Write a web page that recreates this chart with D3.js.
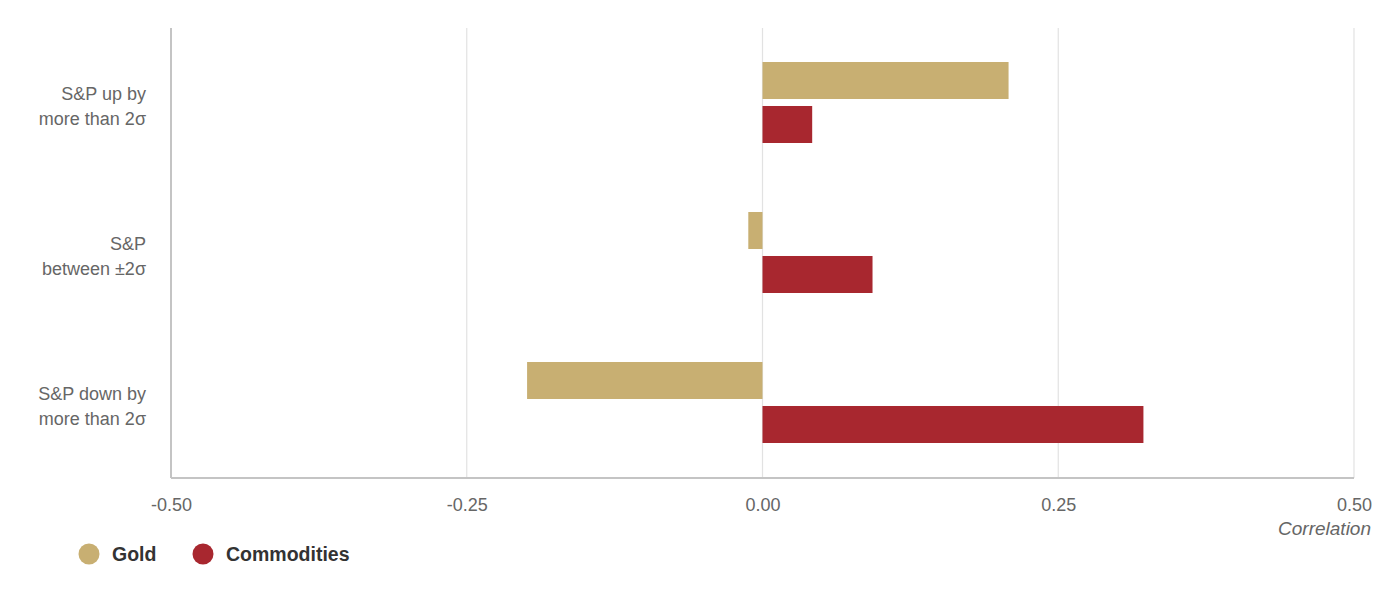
<!DOCTYPE html>
<html><head><meta charset="utf-8">
<script src="https://cdn.jsdelivr.net/npm/d3@7"></script>
<style>body{margin:0;background:#fff;font-family:"Liberation Sans",Arial,sans-serif}</style>
</head><body><svg id="c" width="1400" height="600"></svg>
<script>
const categories = [["S&P up by","more than 2σ"],["S&P","between ±2σ"],["S&P down by","more than 2σ"]];
const seriesNames = ["Gold","Commodities"];
const gold = [0.208, -0.012, -0.199];
const commodities = [0.042, 0.093, 0.322];
const tickValues = [-0.5,-0.25,0,0.25,0.5];
const colors = ["#C8AF72","#A8272F"];

const svg = d3.select("#c");
const L=171, R=1354, T=28, B=478;
const x = d3.scaleLinear().domain([-0.5,0.5]).range([L,R]);
const y0 = d3.scaleBand().domain(d3.range(3)).range([T,B]).padding(0);
const y1 = d3.scaleBand().domain([0,1]).range([-41,40]).paddingInner(0.159).paddingOuter(0);

// gridlines
svg.append("g").selectAll("line").data(tickValues.slice(1)).join("line")
  .attr("x1",d=>x(d)).attr("x2",d=>x(d)).attr("y1",T).attr("y2",B)
  .attr("stroke","#e2e2e2").attr("stroke-width",1.2);
// axis lines
svg.append("line").attr("x1",L).attr("x2",L).attr("y1",T).attr("y2",B).attr("stroke","#c4c4c4").attr("stroke-width",2);
svg.append("line").attr("x1",L).attr("x2",R).attr("y1",B).attr("y2",B).attr("stroke","#c4c4c4").attr("stroke-width",2);

const data = categories.map((c,i)=>({i, vals:[gold[i], commodities[i]]}));
const groups = svg.append("g").selectAll("g").data(data).join("g")
  .attr("transform",d=>`translate(0,${y0(d.i)+y0.bandwidth()/2})`);
groups.selectAll("rect").data(d=>d.vals.map((v,k)=>({v,k}))).join("rect")
  .attr("x",d=>x(Math.min(0,d.v))).attr("width",d=>Math.abs(x(d.v)-x(0)))
  .attr("y",d=>y1(d.k)).attr("height",y1.bandwidth())
  .attr("fill",d=>colors[d.k]);

// category labels
const cl = svg.append("g").selectAll("text").data(categories).join("text")
  .attr("text-anchor","end").attr("fill","#666").attr("font-size",18)
  .attr("transform",(d,i)=>`translate(146,${y0(i)+y0.bandwidth()/2 - 3})`);
cl.selectAll("tspan").data(d=>d).join("tspan").attr("x",0).attr("dy",(d,j)=>j===0?0:24.5).text(d=>d);

// x axis
const xAxis = d3.axisBottom(x).tickValues(tickValues).tickFormat(d=>d3.format(".2f")(d).replace("−","-")).tickSize(0).tickPadding(20);
const ax = svg.append("g").attr("transform",`translate(0,${B})`).call(xAxis);
ax.select(".domain").remove();
ax.selectAll("text").attr("fill","#666").attr("font-size",18).attr("font-family","Liberation Sans, Arial, sans-serif");
svg.append("text").attr("x",1371).attr("y",535).attr("text-anchor","end").attr("font-style","italic")
  .attr("fill","#666").attr("font-size",19).text("Correlation");

// legend
const lg = svg.append("g").selectAll("g").data(seriesNames).join("g")
  .attr("transform",(d,i)=>`translate(${[89,203][i]},554)`);
lg.append("circle").attr("r",10.5).attr("fill",(d,i)=>colors[i]);
lg.append("text").attr("x",23).attr("y",7).attr("font-weight","bold").attr("font-size",19.5).attr("fill","#333").text(d=>d);
</script></body></html>
